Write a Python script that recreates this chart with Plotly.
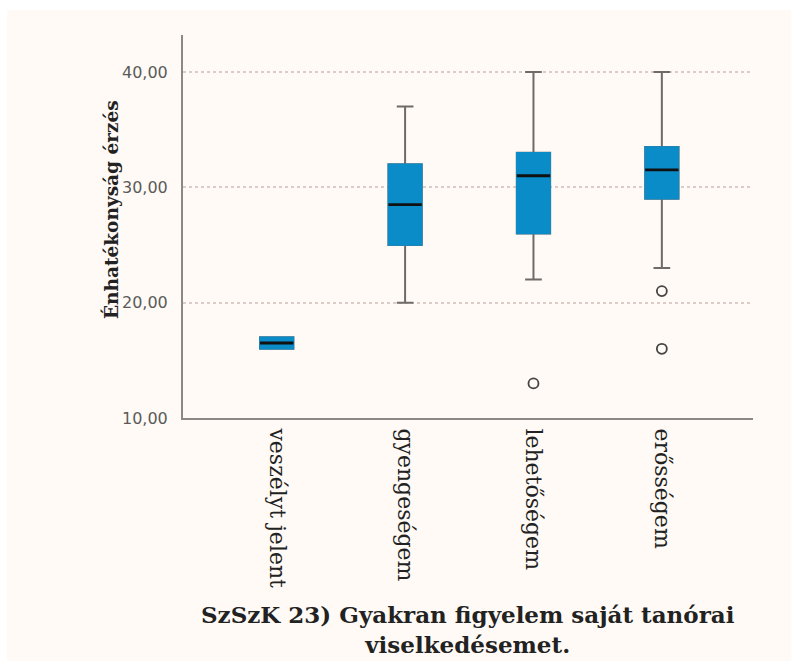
import plotly.graph_objects as go

categories = ["veszélyt jelent", "gyengeségem", "lehetőségem", "erősségem"]
q1 = [16.0, 25.0, 26.0, 29.0]
median = [16.5, 28.5, 31.0, 31.5]
q3 = [17.0, 32.0, 33.0, 33.5]
lower_whisker = [16.0, 20.0, 22.0, 23.0]
upper_whisker = [17.0, 37.0, 40.0, 40.0]
outlier_cat = [2, 3, 3]
outlier_val = [13.0, 21.0, 16.0]
y_ticks = [10, 20, 30, 40]
y_ticktext = ["10,00", "20,00", "30,00", "40,00"]
y_title = "Énhatékonyság érzés"
x_title_lines = ["SzSzK 23) Gyakran figyelem saját tanórai", "viselkedésemet."]

xpos = list(range(len(categories)))
BLUE = "#0a8cc9"
GREY = "#6e6a68"
BG = "#fffaf5"
BW = 0.26

fig = go.Figure()
# whiskers + outline (grey)
fig.add_trace(go.Box(
    x=xpos, q1=q1, median=median, q3=q3,
    lowerfence=lower_whisker, upperfence=upper_whisker,
    width=BW, whiskerwidth=0.5, fillcolor=BLUE,
    line=dict(color=GREY, width=2), boxpoints=False, showlegend=False,
    hoverinfo="skip"))
# box body (blue, no visible outline)
fig.add_trace(go.Box(
    x=xpos, q1=q1, median=median, q3=q3,
    lowerfence=q1, upperfence=q3,
    width=BW, whiskerwidth=0, fillcolor=BLUE,
    line=dict(color=BLUE, width=1.5), boxpoints=False, showlegend=False,
    hoverinfo="skip"))
# median line (black)
fig.add_trace(go.Box(
    x=xpos, q1=median, median=median, q3=median,
    lowerfence=median, upperfence=median,
    width=BW, whiskerwidth=0, fillcolor="#111111",
    line=dict(color="#111111", width=2.8), boxpoints=False, showlegend=False,
    hoverinfo="skip"))
# outliers
fig.add_trace(go.Scatter(
    x=outlier_cat, y=outlier_val, mode="markers",
    marker=dict(symbol="circle-open", size=10, color="#444444",
                line=dict(width=1.8, color="#444444")),
    showlegend=False, hoverinfo="skip"))

fig.update_layout(
    width=798, height=669,
    margin=dict(l=183, r=45, t=35, b=251),
    paper_bgcolor="#ffffff", plot_bgcolor=BG,
    boxmode="overlay",
    xaxis=dict(
        range=[-0.73, 3.71], tickmode="array", tickvals=xpos, ticktext=categories,
        tickangle=90, showgrid=False, zeroline=False,
        showline=True, linecolor="#8c8886", linewidth=2, ticks="",
        tickfont=dict(family="DejaVu Serif", size=22, color="#222222"),
        ticklabelstandoff=4,
    ),
    yaxis=dict(
        range=[10, 43.2], tickmode="array", tickvals=y_ticks, ticktext=y_ticktext,
        showgrid=True, gridcolor="#dcccc8", griddash="dot", gridwidth=1.5,
        zeroline=False, showline=True, linecolor="#8c8886", linewidth=2, ticks="",
        tickfont=dict(family="DejaVu Sans", size=16, color="#5a5a5a"),
        ticklabelstandoff=10,
    ),
    shapes=[
        dict(type="rect", xref="paper", yref="paper", layer="below",
             x0=-0.309, x1=1.067, y0=-0.635, y1=1.065,
             fillcolor=BG, line=dict(width=0)),
    ],
    annotations=[
        dict(text="<b>" + y_title + "</b>", xref="paper", yref="paper",
             x=-0.125, y=0.545, textangle=-90, showarrow=False,
             xanchor="center", yanchor="middle",
             font=dict(family="DejaVu Serif", size=18.5, color="#222222")),
        dict(text="<b>" + x_title_lines[0] + "<br>" + x_title_lines[1] + "</b>",
             xref="paper", yref="paper", x=0.5, y=-0.553, showarrow=False,
             xanchor="center", yanchor="middle",
             font=dict(family="DejaVu Serif", size=23, color="#222222")),
    ],
)

fig.write_html("out.html")
